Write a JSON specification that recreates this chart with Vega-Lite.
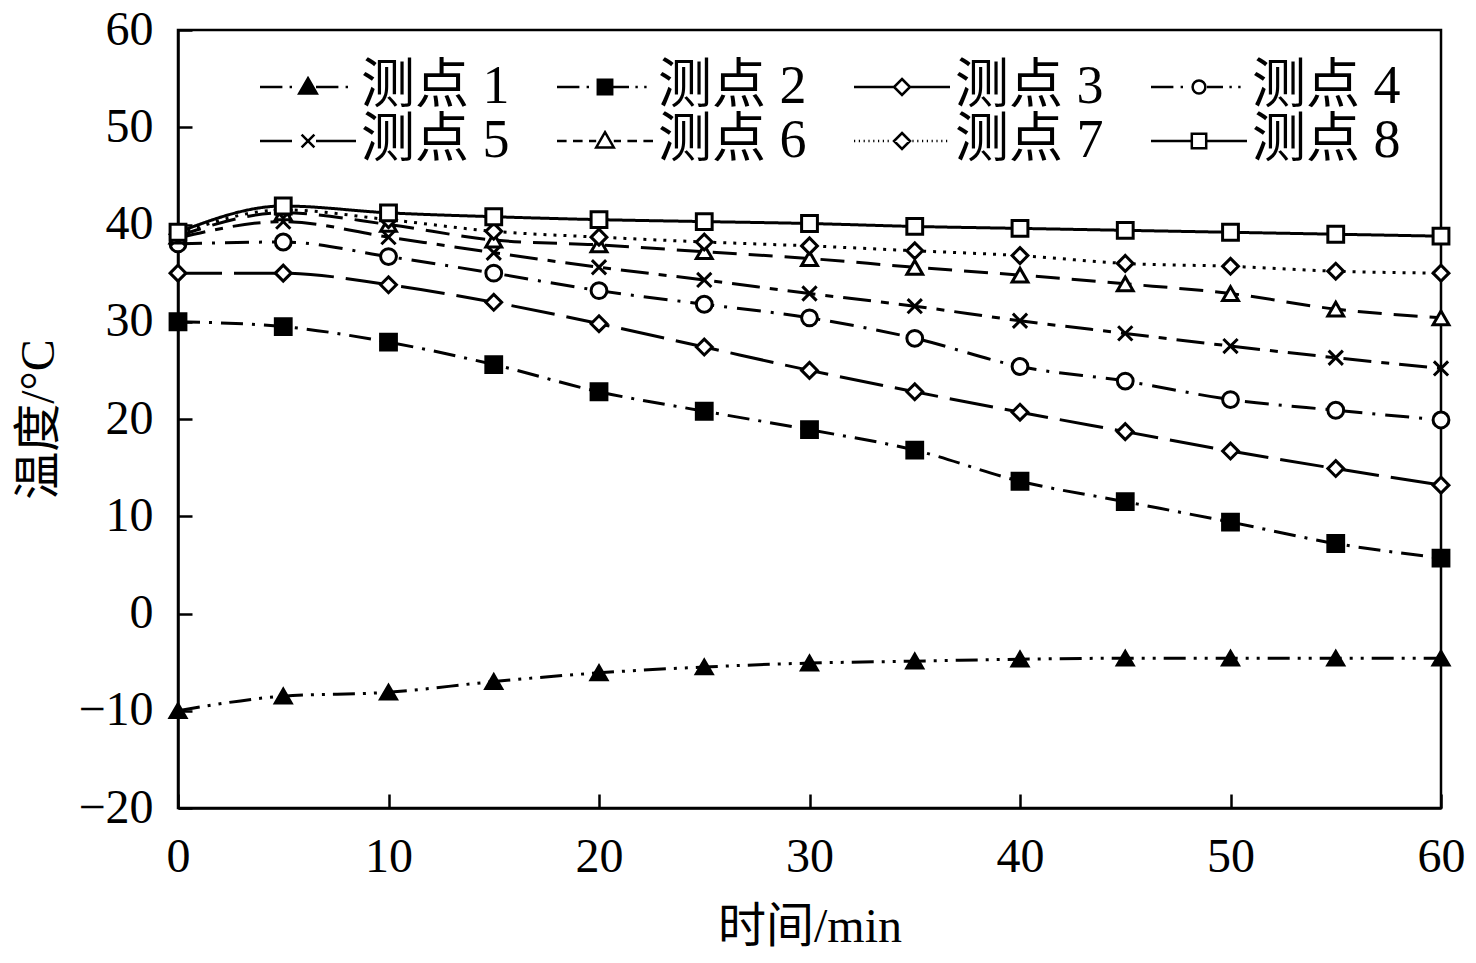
{
  "$schema": "https://vega.github.io/schema/vega-lite/v6.json",
  "autosize": "none",
  "width": 1263,
  "height": 778,
  "padding": {"left": 178, "top": 30, "right": 35, "bottom": 155},
  "background": "white",
  "config": {
    "view": {"stroke": "black", "strokeWidth": 2.5},
    "font": "Liberation Serif, Noto Sans CJK SC",
    "axis": {
      "domainColor": "black", "domainWidth": 2.5,
      "tickColor": "black", "tickWidth": 2.5, "tickSize": -14,
      "labelFont": "Liberation Serif", "labelFontSize": 48, "labelColor": "black", "labelFlush": false,
      "titleFont": "Liberation Serif, Noto Sans CJK SC", "titleFontSize": 48,
      "titleFontWeight": "normal", "titleColor": "black",
      "grid": false
    }
  },
  "data": {
    "values": [
      {"t": 0, "s": "测点 1", "v": -10.0}, {"t": 5, "s": "测点 1", "v": -8.5}, {"t": 10, "s": "测点 1", "v": -8.1},
      {"t": 15, "s": "测点 1", "v": -7.0}, {"t": 20, "s": "测点 1", "v": -6.1}, {"t": 25, "s": "测点 1", "v": -5.5},
      {"t": 30, "s": "测点 1", "v": -5.1}, {"t": 35, "s": "测点 1", "v": -4.9}, {"t": 40, "s": "测点 1", "v": -4.7},
      {"t": 45, "s": "测点 1", "v": -4.6}, {"t": 50, "s": "测点 1", "v": -4.6}, {"t": 55, "s": "测点 1", "v": -4.6},
      {"t": 60, "s": "测点 1", "v": -4.6},
      {"t": 0, "s": "测点 2", "v": 30.0}, {"t": 5, "s": "测点 2", "v": 29.5}, {"t": 10, "s": "测点 2", "v": 27.9},
      {"t": 15, "s": "测点 2", "v": 25.6}, {"t": 20, "s": "测点 2", "v": 22.8}, {"t": 25, "s": "测点 2", "v": 20.8},
      {"t": 30, "s": "测点 2", "v": 18.9}, {"t": 35, "s": "测点 2", "v": 16.8}, {"t": 40, "s": "测点 2", "v": 13.6},
      {"t": 45, "s": "测点 2", "v": 11.5}, {"t": 50, "s": "测点 2", "v": 9.4}, {"t": 55, "s": "测点 2", "v": 7.2},
      {"t": 60, "s": "测点 2", "v": 5.7},
      {"t": 0, "s": "测点 3", "v": 35.0}, {"t": 5, "s": "测点 3", "v": 35.0}, {"t": 10, "s": "测点 3", "v": 33.8},
      {"t": 15, "s": "测点 3", "v": 32.0}, {"t": 20, "s": "测点 3", "v": 29.8}, {"t": 25, "s": "测点 3", "v": 27.4},
      {"t": 30, "s": "测点 3", "v": 25.0}, {"t": 35, "s": "测点 3", "v": 22.8}, {"t": 40, "s": "测点 3", "v": 20.7},
      {"t": 45, "s": "测点 3", "v": 18.7}, {"t": 50, "s": "测点 3", "v": 16.7}, {"t": 55, "s": "测点 3", "v": 14.9},
      {"t": 60, "s": "测点 3", "v": 13.2},
      {"t": 0, "s": "测点 4", "v": 38.0}, {"t": 5, "s": "测点 4", "v": 38.2}, {"t": 10, "s": "测点 4", "v": 36.7},
      {"t": 15, "s": "测点 4", "v": 35.0}, {"t": 20, "s": "测点 4", "v": 33.2}, {"t": 25, "s": "测点 4", "v": 31.8},
      {"t": 30, "s": "测点 4", "v": 30.4}, {"t": 35, "s": "测点 4", "v": 28.3}, {"t": 40, "s": "测点 4", "v": 25.4},
      {"t": 45, "s": "测点 4", "v": 23.9}, {"t": 50, "s": "测点 4", "v": 22.0}, {"t": 55, "s": "测点 4", "v": 20.9},
      {"t": 60, "s": "测点 4", "v": 19.9},
      {"t": 0, "s": "测点 5", "v": 38.6}, {"t": 5, "s": "测点 5", "v": 40.3}, {"t": 10, "s": "测点 5", "v": 38.7},
      {"t": 15, "s": "测点 5", "v": 37.1}, {"t": 20, "s": "测点 5", "v": 35.6}, {"t": 25, "s": "测点 5", "v": 34.3},
      {"t": 30, "s": "测点 5", "v": 32.9}, {"t": 35, "s": "测点 5", "v": 31.6}, {"t": 40, "s": "测点 5", "v": 30.1},
      {"t": 45, "s": "测点 5", "v": 28.8}, {"t": 50, "s": "测点 5", "v": 27.5}, {"t": 55, "s": "测点 5", "v": 26.3},
      {"t": 60, "s": "测点 5", "v": 25.2},
      {"t": 0, "s": "测点 6", "v": 38.8}, {"t": 5, "s": "测点 6", "v": 41.2}, {"t": 10, "s": "测点 6", "v": 40.0},
      {"t": 15, "s": "测点 6", "v": 38.4}, {"t": 20, "s": "测点 6", "v": 37.9}, {"t": 25, "s": "测点 6", "v": 37.2},
      {"t": 30, "s": "测点 6", "v": 36.5}, {"t": 35, "s": "测点 6", "v": 35.6}, {"t": 40, "s": "测点 6", "v": 34.8},
      {"t": 45, "s": "测点 6", "v": 33.9}, {"t": 50, "s": "测点 6", "v": 32.9}, {"t": 55, "s": "测点 6", "v": 31.3},
      {"t": 60, "s": "测点 6", "v": 30.4},
      {"t": 0, "s": "测点 7", "v": 39.0}, {"t": 5, "s": "测点 7", "v": 41.5}, {"t": 10, "s": "测点 7", "v": 40.5},
      {"t": 15, "s": "测点 7", "v": 39.3}, {"t": 20, "s": "测点 7", "v": 38.7}, {"t": 25, "s": "测点 7", "v": 38.2},
      {"t": 30, "s": "测点 7", "v": 37.8}, {"t": 35, "s": "测点 7", "v": 37.3}, {"t": 40, "s": "测点 7", "v": 36.8},
      {"t": 45, "s": "测点 7", "v": 36.0}, {"t": 50, "s": "测点 7", "v": 35.7}, {"t": 55, "s": "测点 7", "v": 35.2},
      {"t": 60, "s": "测点 7", "v": 35.0},
      {"t": 0, "s": "测点 8", "v": 39.2}, {"t": 5, "s": "测点 8", "v": 41.9}, {"t": 10, "s": "测点 8", "v": 41.2},
      {"t": 15, "s": "测点 8", "v": 40.8}, {"t": 20, "s": "测点 8", "v": 40.5}, {"t": 25, "s": "测点 8", "v": 40.3},
      {"t": 30, "s": "测点 8", "v": 40.1}, {"t": 35, "s": "测点 8", "v": 39.8}, {"t": 40, "s": "测点 8", "v": 39.6},
      {"t": 45, "s": "测点 8", "v": 39.4}, {"t": 50, "s": "测点 8", "v": 39.2}, {"t": 55, "s": "测点 8", "v": 39.0},
      {"t": 60, "s": "测点 8", "v": 38.8}
    ]
  },
  "encoding": {
    "x": {
      "field": "t", "type": "quantitative", "title": "时间/min",
      "scale": {"domain": [0, 60], "nice": false},
      "axis": {"values": [0, 10, 20, 30, 40, 50, 60], "labelPadding": 39, "titlePadding": 22}
    },
    "y": {
      "field": "v", "type": "quantitative", "title": "温度/°C",
      "scale": {"domain": [-20, 60], "nice": false},
      "axis": {"values": [-20, -10, 0, 10, 20, 30, 40, 50, 60], "labelPadding": 39, "titlePadding": 14}
    }
  },
  "resolve": {"scale": {"shape": "independent", "fill": "independent", "stroke": "independent"}},
  "layer": [
    {
      "mark": {"type": "line", "color": "black", "strokeWidth": 3, "interpolate": "monotone"},
      "encoding": {
        "strokeDash": {
          "field": "s", "type": "nominal", "legend": null,
          "scale": {
            "domain": ["测点 1", "测点 2", "测点 3", "测点 4", "测点 5", "测点 6", "测点 7", "测点 8"],
            "range": [[22, 8, 3, 8, 3, 8], [22, 9, 3, 9], [44, 12], [24, 10, 3, 10], [28, 10, 8, 10], [24, 12], [3, 7], [1, 0]]
          }
        }
      }
    },
    {
      "mark": {"type": "point", "size": 250, "stroke": "black", "strokeWidth": 3, "opacity": 1},
      "encoding": {
        "shape": {
          "field": "s", "type": "nominal", "legend": null,
          "scale": {
            "domain": ["测点 1", "测点 2", "测点 3", "测点 4", "测点 5", "测点 6", "测点 7", "测点 8"],
            "range": ["triangle-up", "square", "diamond", "circle", "M-0.9,-0.9L0.9,0.9M-0.9,0.9L0.9,-0.9", "triangle-up", "diamond", "square"]
          }
        },
        "fill": {
          "field": "s", "type": "nominal", "legend": null,
          "scale": {
            "domain": ["测点 1", "测点 2", "测点 3", "测点 4", "测点 5", "测点 6", "测点 7", "测点 8"],
            "range": ["black", "black", "white", "white", "white", "white", "white", "white"]
          }
        }
      }
    },
    {
      "mark": {"type": "point", "size": 256, "strokeWidth": 2.5, "opacity": 0},
      "encoding": {
        "shape": {
          "field": "s", "type": "nominal",
          "scale": {
            "domain": ["测点 1", "测点 2", "测点 3", "测点 4", "测点 5", "测点 6", "测点 7", "测点 8"],
            "range": [
              "M-6,0H-3.2M-2.3,0H-2M1,0H3.8M4.7,0H5M0,-1.1L1.1,0.8H-1.1Z",
              "M-6,0H-3.2M-2.3,0H-2M1,0H3M3.8,0H4.1M4.9,0H5.2M-0.9,-0.9H0.9V0.9H-0.9Z",
              "M-6,0H-1M1,0H6M0,-1L1,0L0,1L-1,0Z",
              "M-6,0H-3.2M-2.3,0H-2M1,0H3M3.8,0H4.1M4.9,0H5.2M-0.8,0A0.8,0.8,0,1,0,0.8,0A0.8,0.8,0,1,0,-0.8,0Z",
              "M-6,0H-2M1,0H6M-0.8,-0.8L0.8,0.8M-0.8,0.8L0.8,-0.8",
              "M-6,0H-4.8M-4,0H-2.8M-2,0H-1.1M1.1,0H2M2.8,0H4M4.8,0H6M0,-1.1L1.1,0.8H-1.1Z",
              "M-6,0H-5.85M-5.4,0H-5.25M-4.8,0H-4.65M-4.2,0H-4.05M-3.6,0H-3.45M-3,0H-2.85M-2.4,0H-2.25M-1.8,0H-1.65M1.3,0H1.45M1.9,0H2.05M2.5,0H2.65M3.1,0H3.25M3.7,0H3.85M4.3,0H4.45M4.9,0H5.05M5.5,0H5.65M0,-1L1,0L0,1L-1,0Z",
              "M-6,0H-0.9M0.9,0H6M-0.9,-0.9H0.9V0.9H-0.9Z"
            ]
          },
          "legend": {
            "title": null, "orient": "none", "legendX": 103, "legendY": 30, "direction": "horizontal",
            "columns": 4, "columnPadding": 42, "rowPadding": 0, "padding": 0,
            "labelFont": "Liberation Serif, Noto Sans CJK SC", "labelFontSize": 54, "labelColor": "black",
            "labelOffset": 26, "labelLimit": 400, "symbolSize": 256, "symbolOpacity": 1,
            "symbolStrokeColor": "black", "symbolStrokeWidth": 2.5
          }
        },
        "fill": {
          "field": "s", "type": "nominal",
          "scale": {
            "domain": ["测点 1", "测点 2", "测点 3", "测点 4", "测点 5", "测点 6", "测点 7", "测点 8"],
            "range": ["black", "black", "white", "white", "white", "white", "white", "white"]
          },
          "legend": {"title": null}
        },
        "stroke": {
          "field": "s", "type": "nominal",
          "scale": {
            "domain": ["测点 1", "测点 2", "测点 3", "测点 4", "测点 5", "测点 6", "测点 7", "测点 8"],
            "range": ["black", "black", "black", "black", "black", "black", "black", "black"]
          },
          "legend": {"title": null}
        }
      }
    }
  ]
}
